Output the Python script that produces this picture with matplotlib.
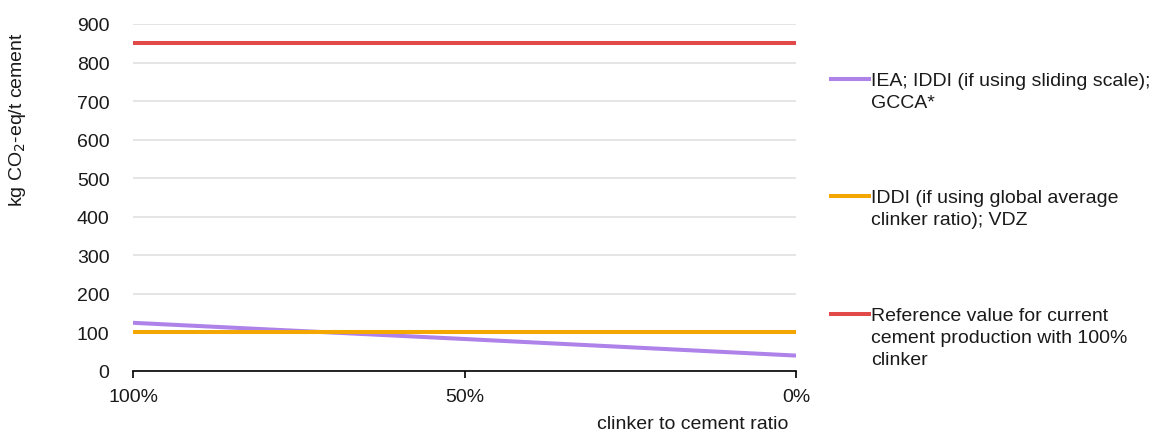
import matplotlib
matplotlib.use("Agg")
import matplotlib.pyplot as plt
from matplotlib.lines import Line2D

plt.rcParams['font.family'] = ['Liberation Sans', 'DejaVu Sans']

# Data
clinker_ratio = [100, 50, 0]           # % clinker to cement ratio
iea_values = [125, 83, 40]             # IEA; IDDI (sliding scale); GCCA*
iddi_values = [100, 100, 100]          # IDDI (global average clinker ratio); VDZ
reference_values = [850, 850, 850]     # Reference value, 100% clinker
x_tick_labels = ["100%", "50%", "0%"]
y_ticks = [0, 100, 200, 300, 400, 500, 600, 700, 800, 900]

series_labels = [
    "IEA; IDDI (if using sliding scale);\nGCCA*",
    "IDDI (if using global average\nclinker ratio); VDZ",
    "Reference value for current\ncement production with 100%\nclinker",
]
series_colors = ["#AE82E9", "#F4A700", "#E24A4A"]

W, H = 1156, 439
FS = 14
TXT = '#1a1a1a'
fig = plt.figure(figsize=(W / 100, H / 100), dpi=100)
ax = fig.add_axes([133 / W, 1 - 372 / H, (796 - 133) / W, (372 - 25) / H])

for vals, col in zip([iea_values, iddi_values, reference_values], series_colors):
    ax.plot(clinker_ratio, vals, color=col, lw=2.9, solid_capstyle='butt', zorder=3)

ax.set_xlim(100, 0)
ax.set_ylim(0, 900)
ax.set_yticks(y_ticks)
ax.set_xticks(clinker_ratio)
ax.set_xticklabels(x_tick_labels)
ax.grid(axis='y', color='#E0E0E0', lw=1.2, zorder=0)
ax.grid(axis='x', visible=False)
for s in ['top', 'right', 'left']:
    ax.spines[s].set_visible(False)
ax.spines['bottom'].set_color('black')
ax.spines['bottom'].set_linewidth(1.2)
ax.tick_params(axis='y', length=0, pad=17, labelsize=FS, labelcolor=TXT)
ax.tick_params(axis='x', length=5, width=1.2, direction='out', pad=7, labelsize=FS, labelcolor=TXT)

fig.text(18 / W, 1 - 120 / H, "kg CO$_2$-eq/t cement", rotation=90, ha='center', va='center',
         fontsize=FS, color=TXT)
fig.text(693 / W, 1 - 425 / H, "clinker to cement ratio", ha='center', va='center',
         fontsize=FS, color=TXT)

# Legend (manual)
legend_y = [80, 197, 315]
for lab, col, yy in zip(series_labels, series_colors, legend_y):
    fig.add_artist(Line2D([831 / W, 869 / W], [1 - yy / H, 1 - yy / H], color=col, lw=2.9,
                          transform=fig.transFigure))
    fig.text(871 / W, 1 - (yy - 7) / H, lab, ha='left', va='top', fontsize=FS,
             color=TXT, linespacing=1.38)

fig.savefig("out.png", dpi=100)
